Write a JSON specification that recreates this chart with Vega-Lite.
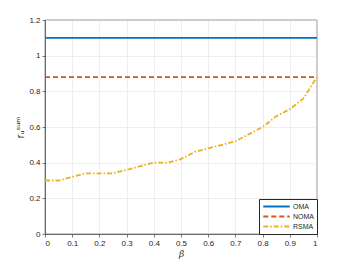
{
  "$schema": "https://vega.github.io/schema/vega-lite/v6.json",
  "width": 272,
  "height": 214,
  "autosize": {"type": "none"},
  "padding": {"left": 45, "top": 20, "right": 33, "bottom": 29},
  "background": "white",
  "config": {
    "view": {"stroke": "#262626", "strokeWidth": 0.6},
    "font": "Liberation Sans",
    "axis": {
      "labelFont": "Liberation Sans",
      "labelFontSize": 8,
      "labelColor": "#262626",
      "titleColor": "#262626",
      "domainColor": "#262626",
      "domainWidth": 0.6,
      "tickColor": "#262626",
      "tickWidth": 0.6,
      "gridColor": "#e3e3e3",
      "gridWidth": 0.6
    },
    "legend": {
      "title": null, "orient": "bottom-right", "offset": 0,
      "symbolType": "stroke", "symbolStrokeWidth": 1.8, "symbolSize": 700,
      "labelFontSize": 7, "labelColor": "#262626", "rowPadding": 1, "padding": 3,
      "clipHeight": 9,
      "strokeColor": "#262626", "fillColor": "white", "labelOffset": 2
    }
  },
  "data": {
    "values": [
      {"beta": 0, "r": 1.1, "scheme": "OMA"},
      {"beta": 1, "r": 1.1, "scheme": "OMA"},
      {"beta": 0, "r": 0.88, "scheme": "NOMA"},
      {"beta": 1, "r": 0.88, "scheme": "NOMA"},
      {"beta": 0, "r": 0.30, "scheme": "RSMA"},
      {"beta": 0.05, "r": 0.30, "scheme": "RSMA"},
      {"beta": 0.1, "r": 0.32, "scheme": "RSMA"},
      {"beta": 0.15, "r": 0.34, "scheme": "RSMA"},
      {"beta": 0.2, "r": 0.34, "scheme": "RSMA"},
      {"beta": 0.25, "r": 0.34, "scheme": "RSMA"},
      {"beta": 0.3, "r": 0.36, "scheme": "RSMA"},
      {"beta": 0.35, "r": 0.38, "scheme": "RSMA"},
      {"beta": 0.4, "r": 0.40, "scheme": "RSMA"},
      {"beta": 0.45, "r": 0.40, "scheme": "RSMA"},
      {"beta": 0.5, "r": 0.42, "scheme": "RSMA"},
      {"beta": 0.55, "r": 0.46, "scheme": "RSMA"},
      {"beta": 0.6, "r": 0.48, "scheme": "RSMA"},
      {"beta": 0.65, "r": 0.50, "scheme": "RSMA"},
      {"beta": 0.7, "r": 0.52, "scheme": "RSMA"},
      {"beta": 0.75, "r": 0.56, "scheme": "RSMA"},
      {"beta": 0.8, "r": 0.60, "scheme": "RSMA"},
      {"beta": 0.85, "r": 0.66, "scheme": "RSMA"},
      {"beta": 0.9, "r": 0.70, "scheme": "RSMA"},
      {"beta": 0.95, "r": 0.76, "scheme": "RSMA"},
      {"beta": 1, "r": 0.88, "scheme": "RSMA"}
    ]
  },
  "mark": {"type": "line", "strokeWidth": 1.8, "clip": true},
  "encoding": {
    "x": {
      "field": "beta", "type": "quantitative",
      "scale": {"domain": [0, 1], "nice": false},
      "axis": {"values": [0, 0.1, 0.2, 0.3, 0.4, 0.5, 0.6, 0.7, 0.8, 0.9, 1], "format": "~g", "title": "β", "titleFont": "DejaVu Serif", "titleFontStyle": "italic", "titleFontWeight": "normal", "titleFontSize": 9, "titlePadding": 2, "tickSize": 3, "labelPadding": 2}
    },
    "y": {
      "field": "r", "type": "quantitative",
      "scale": {"domain": [0, 1.2], "nice": false},
      "axis": {"values": [0, 0.2, 0.4, 0.6, 0.8, 1, 1.2], "format": "~g", "title": "rᵤˢᵘᵐ", "titleFont": "DejaVu Sans", "titleFontWeight": "normal", "titleFontSize": 10, "titlePadding": 3, "tickSize": 3, "labelPadding": 2}
    },
    "color": {
      "field": "scheme", "type": "nominal",
      "scale": {"domain": ["OMA", "NOMA", "RSMA"], "range": ["#0072BD", "#D95319", "#EDB120"]}
    },
    "strokeDash": {
      "field": "scheme", "type": "nominal",
      "scale": {"domain": ["OMA", "NOMA", "RSMA"], "range": [[1, 0], [5, 3], [5, 2, 1.5, 2]]}
    }
  }
}
